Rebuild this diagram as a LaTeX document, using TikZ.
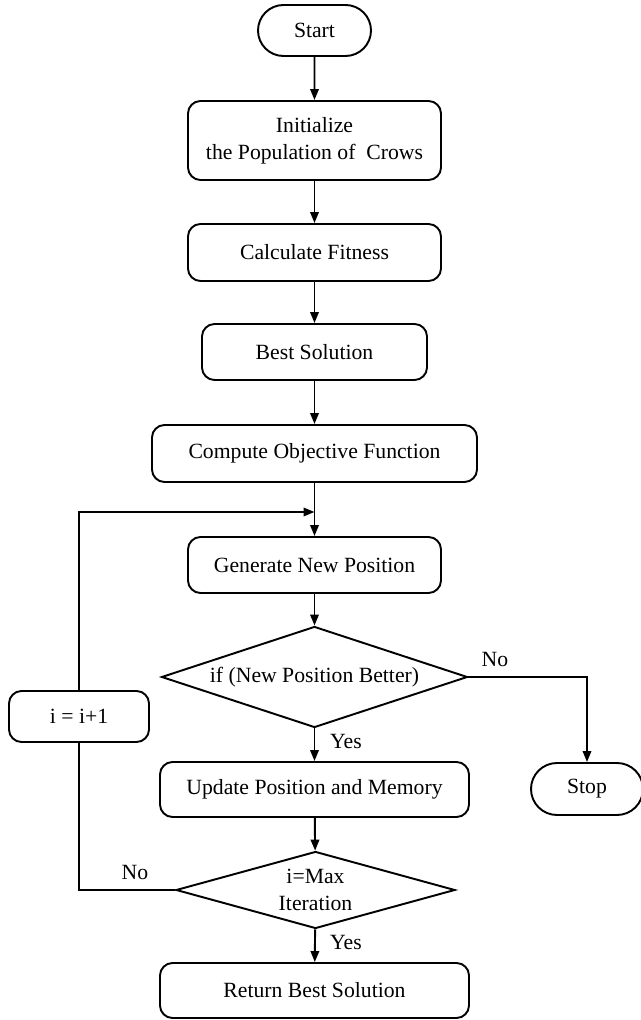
\documentclass[tikz,border=0pt]{standalone}
\usepackage{fontspec}
\setmainfont{Liberation Serif}
\usepackage{tikz}
\usetikzlibrary{shapes.geometric, shapes.misc, arrows.meta, positioning}

\begin{document}
\begin{tikzpicture}[>={Stealth[length=2.2mm, width=1.7mm, inset=0pt]},
    line width=1.1pt,
    every node/.style={font=\fontsize{12.35}{15.3}\selectfont},
    procbox/.style={draw, rounded corners=2.5mm, align=center, inner sep=0pt},
    terminal/.style={draw, rounded rectangle, inner sep=0pt},
    decision/.style={draw, diamond, aspect=3, align=center, inner sep=0pt}]
    \useasboundingbox (0,0) rectangle (12.82,20.4);

    % main column
    \node[terminal, minimum width=2.26cm, minimum height=1.02cm] (start) at (6.29,19.79) {Start};
    \node[procbox, minimum width=5.06cm, minimum height=1.58cm] (init) at (6.29,17.59) {Initialize\\the Population of \ Crows};
    \node[procbox, minimum width=5.06cm, minimum height=1.14cm] (fit) at (6.29,15.35) {Calculate Fitness};
    \node[procbox, minimum width=4.5cm, minimum height=1.12cm] (best) at (6.29,13.36) {Best Solution};
    \node[procbox, minimum width=6.5cm, minimum height=1.14cm] (obj) at (6.29,11.33) {Compute Objective Function};
    \coordinate (join) at (6.29,10.16);
    \node[procbox, minimum width=5.06cm, minimum height=1.12cm] (gen) at (6.29,9.1) {Generate New Position};
    \node[decision, minimum width=6.12cm, minimum height=2.02cm] (better) at (6.29,6.86) {if (New Position Better)};
    \node[procbox, minimum width=6.18cm, minimum height=1.1cm] (upd) at (6.29,4.61) {Update Position and Memory};
    \node[decision, minimum width=5.58cm, minimum height=1.54cm] (maxit) at (6.31,2.6) {i=Max\\Iteration};
    \node[procbox, minimum width=6.18cm, minimum height=1.1cm] (ret) at (6.29,0.59) {Return Best Solution};

    % side nodes
    \node[procbox, minimum width=2.8cm, minimum height=1.02cm] (inc) at (1.58,6.07) {i = i+1};
    \node[terminal, minimum width=2.24cm, minimum height=1.04cm] (stop) at (11.74,4.62) {Stop};

    % connectors
    \draw[->] (start) -- (init);
    \draw[->] (init) -- (fit);
    \draw[->] (fit) -- (best);
    \draw[->] (best) -- (obj);
    \draw[->] (obj) -- (gen);
    \draw[->] (gen) -- (better);
    \draw[->] (better) -- (upd);
    \draw[->] (upd) -- (maxit);
    \draw[->] (maxit) -- (ret);
    \draw[->] (better.east) -| (stop.north);
    \draw (maxit.west) -| (inc.south);
    \draw[->] (inc.north) |- (join);

    % labels
    \node (no1) at (9.9,7.2) {No};
    \node (yes1) at (6.92,5.56) {Yes};
    \node (no2) at (2.7,2.94) {No};
    \node (yes2) at (6.92,1.54) {Yes};
\end{tikzpicture}
\end{document}
